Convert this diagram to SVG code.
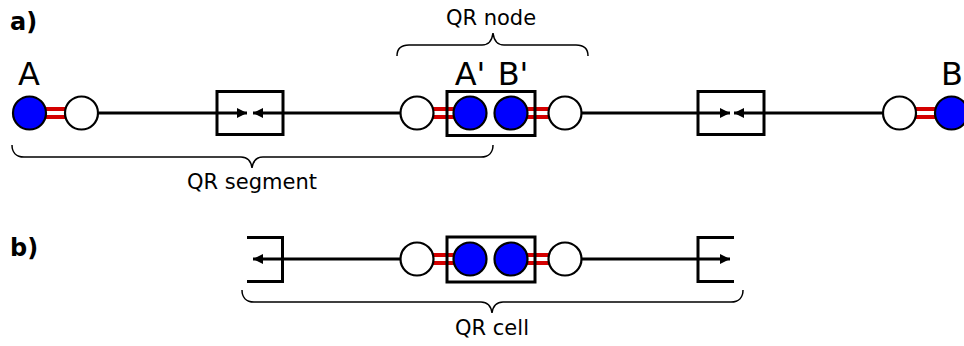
<svg xmlns="http://www.w3.org/2000/svg" width="964" height="346" viewBox="0 0 964 346">
<defs>
<style>
.wire{stroke:#000;stroke-width:3;fill:none}
.box{stroke:#000;stroke-width:3;fill:none}
.w{fill:#fff;stroke:#000;stroke-width:2.2}
.b{fill:#0000ff;stroke:#000;stroke-width:2.2}
.red{stroke:#d40000;stroke-width:12}
.gap{stroke:#fff;stroke-width:4}
.brace{stroke:#000;stroke-width:1.5;fill:none}
.lbl{font-family:"DejaVu Sans",sans-serif;font-size:32px;fill:#000;text-anchor:middle}
.cap{font-family:"DejaVu Sans",sans-serif;font-size:21px;fill:#000;text-anchor:middle}
.hd{font-family:"DejaVu Sans",sans-serif;font-size:24px;font-weight:bold;fill:#000}
</style>
<marker id="ah" viewBox="0 0 10 10" refX="10" refY="5" markerWidth="10" markerHeight="10" markerUnits="userSpaceOnUse" orient="auto">
<path d="M0,0 L10,5 L0,10 z" fill="#000"/>
</marker>
</defs>
<rect width="964" height="346" fill="#fff"/>
<text class="hd" x="10" y="30">a)</text>
<text class="hd" x="10" y="256">b)</text>

<g id="connectors">
<!-- row a -->
<line class="wire" x1="99" y1="113" x2="247" y2="113" marker-end="url(#ah)"/>
<line class="wire" x1="400" y1="113" x2="253" y2="113" marker-end="url(#ah)"/>
<line class="wire" x1="582" y1="113" x2="730" y2="113" marker-end="url(#ah)"/>
<line class="wire" x1="882" y1="113" x2="734" y2="113" marker-end="url(#ah)"/>
<!-- row b -->
<line class="wire" x1="400" y1="259" x2="253" y2="259" marker-end="url(#ah)"/>
<line class="wire" x1="582" y1="259" x2="730" y2="259" marker-end="url(#ah)"/>
<!-- entanglement links row a -->
<line class="red" x1="46" y1="113" x2="65" y2="113"/><line class="gap" x1="46" y1="113" x2="65" y2="113"/>
<line class="red" x1="433" y1="113" x2="454" y2="113"/><line class="gap" x1="433" y1="113" x2="454" y2="113"/>
<line class="red" x1="527" y1="113" x2="549" y2="113"/><line class="gap" x1="527" y1="113" x2="549" y2="113"/>
<line class="red" x1="916" y1="113" x2="935" y2="113"/><line class="gap" x1="916" y1="113" x2="935" y2="113"/>
<!-- row b -->
<line class="red" x1="433" y1="259" x2="454" y2="259"/><line class="gap" x1="433" y1="259" x2="454" y2="259"/>
<line class="red" x1="527" y1="259" x2="549" y2="259"/><line class="gap" x1="527" y1="259" x2="549" y2="259"/>
</g>

<g id="nodeA">
<circle class="b" cx="29.5" cy="113" r="16.5"/>
<circle class="w" cx="81.5" cy="113" r="16.5"/>
<text class="lbl" x="29" y="85">A</text>
</g>
<g id="swap1"><rect class="box" x="217" y="91.5" width="66" height="43"/></g>
<g id="qrnode-a">
<circle class="w" cx="417" cy="113" r="16.5"/>
<rect class="box" x="447" y="91.5" width="88" height="44"/>
<circle class="b" cx="470" cy="113" r="16.5"/>
<circle class="b" cx="511" cy="113" r="16.5"/>
<circle class="w" cx="565" cy="113" r="16.5"/>
<text class="lbl" x="470" y="85">A'</text>
<text class="lbl" x="513" y="85">B'</text>
</g>
<g id="swap2"><rect class="box" x="698" y="91.5" width="66" height="43"/></g>
<g id="nodeB">
<circle class="w" cx="899.5" cy="113" r="16.5"/>
<circle class="b" cx="951.5" cy="113" r="16.5"/>
<text class="lbl" x="952" y="85">B</text>
</g>

<g id="qrnode-brace">
<path class="brace" d="M397,56 C397,49 401,45 409,45 H482 C488,45 492,41 493,33 C494,41 498,45 504,45 H576 C584,45 588,49 588,56"/>
<text class="cap" x="491" y="25">QR node</text>
</g>
<g id="qrsegment-brace">
<path class="brace" d="M12,145 C12,152 16,157 24,157 H241 C247,157 251,161 252,168 C253,161 257,157 263,157 H481 C489,157 493,152 493,145"/>
<text class="cap" x="252" y="189">QR segment</text>
</g>

<g id="cellLeft"><path class="box" d="M247,237.5 H282.5 V281.5 H247"/></g>
<g id="qrnode-b">
<circle class="w" cx="417" cy="259" r="16.5"/>
<rect class="box" x="447" y="237" width="88" height="45"/>
<circle class="b" cx="470" cy="259" r="16.5"/>
<circle class="b" cx="511" cy="259" r="16.5"/>
<circle class="w" cx="565" cy="259" r="16.5"/>
</g>
<g id="cellRight"><path class="box" d="M734,237.5 H698 V281.5 H734"/></g>
<g id="qrcell-brace">
<path class="brace" d="M242,290 C242,297 246,302 254,302 H481 C487,302 491,306 492,313 C493,306 497,302 503,302 H731 C739,302 743,297 743,290"/>
<text class="cap" x="492" y="335">QR cell</text>
</g>
</svg>
